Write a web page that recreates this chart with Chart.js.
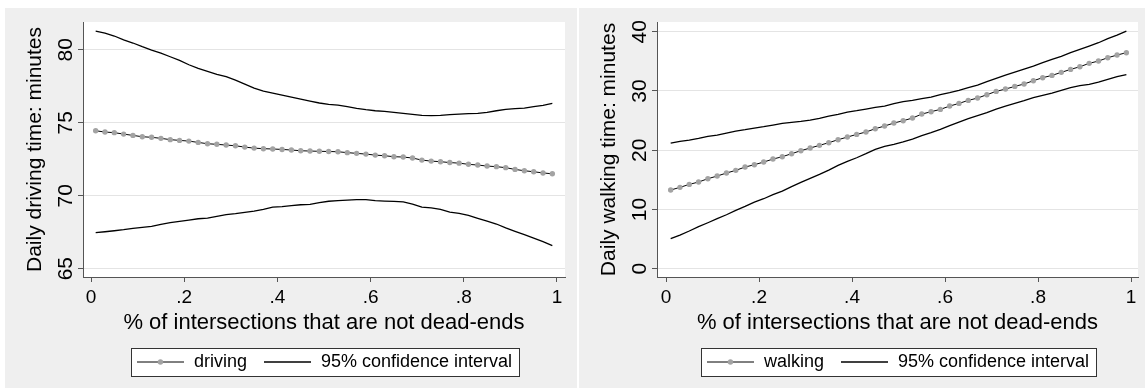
<!DOCTYPE html>
<html>
<head>
<meta charset="utf-8">
<script src="https://cdn.jsdelivr.net/npm/chart.js@4.4.0/dist/chart.umd.min.js"></script>
<style>
  html, body { margin: 0; padding: 0; background: #fff; }
  body { width: 1145px; height: 388px; position: relative; overflow: hidden; }
  .panel { position: absolute; top: 8px; height: 380px; background: #efefef; }
  #panelDriving { left: 5px; width: 572px; }
  #panelWalking { left: 579px; width: 566px; }
  canvas { display: block; }
</style>
</head>
<body>
<div class="panel" id="panelDriving"><canvas id="drivingChart" width="572" height="380"></canvas></div>
<div class="panel" id="panelWalking"><canvas id="walkingChart" width="566" height="380"></canvas></div>
<script>
// share of intersections that are not dead-ends (x of every point)
var shareX = [0.01, 0.03, 0.05, 0.07, 0.09, 0.11, 0.13, 0.15, 0.17, 0.19,
              0.21, 0.23, 0.25, 0.27, 0.29, 0.31, 0.33, 0.35, 0.37, 0.39,
              0.41, 0.43, 0.45, 0.47, 0.49, 0.51, 0.53, 0.55, 0.57, 0.59,
              0.61, 0.63, 0.65, 0.67, 0.69, 0.71, 0.73, 0.75, 0.77, 0.79,
              0.81, 0.83, 0.85, 0.87, 0.89, 0.91, 0.93, 0.95, 0.97, 0.99];

var drivingFit = [74.45, 74.36, 74.32, 74.22, 74.13, 74.04, 74.00, 73.93, 73.84, 73.79,
                  73.74, 73.65, 73.56, 73.52, 73.47, 73.42, 73.33, 73.26, 73.22, 73.20,
                  73.17, 73.13, 73.08, 73.06, 73.04, 73.03, 73.01, 72.95, 72.90, 72.85,
                  72.78, 72.74, 72.67, 72.65, 72.58, 72.44, 72.37, 72.33, 72.27, 72.23,
                  72.15, 72.10, 72.03, 71.99, 71.92, 71.80, 71.71, 71.64, 71.56, 71.50];
var drivingUpper = [81.28, 81.14, 80.94, 80.68, 80.46, 80.21, 79.98, 79.77, 79.52, 79.27,
                    78.97, 78.72, 78.52, 78.31, 78.15, 77.92, 77.65, 77.37, 77.17, 77.03,
                    76.89, 76.76, 76.62, 76.48, 76.35, 76.26, 76.21, 76.10, 75.98, 75.89,
                    75.82, 75.78, 75.71, 75.64, 75.57, 75.50, 75.48, 75.50, 75.55, 75.59,
                    75.62, 75.64, 75.71, 75.82, 75.91, 75.96, 76.00, 76.10, 76.19, 76.32];
var drivingLower = [67.47, 67.53, 67.60, 67.67, 67.76, 67.83, 67.90, 68.04, 68.15, 68.24,
                    68.33, 68.42, 68.47, 68.58, 68.70, 68.77, 68.86, 68.95, 69.06, 69.22,
                    69.25, 69.32, 69.38, 69.41, 69.52, 69.62, 69.66, 69.70, 69.73, 69.73,
                    69.66, 69.63, 69.61, 69.57, 69.43, 69.22, 69.16, 69.06, 68.88, 68.79,
                    68.65, 68.45, 68.26, 68.06, 67.79, 67.56, 67.33, 67.10, 66.85, 66.58];

var walkingFit = [13.28, 13.73, 14.23, 14.63, 15.19, 15.64, 16.15, 16.60, 17.16, 17.55,
                  18.00, 18.51, 18.90, 19.41, 19.92, 20.37, 20.82, 21.27, 21.77, 22.22,
                  22.67, 23.07, 23.63, 24.08, 24.59, 24.98, 25.43, 26.10, 26.50, 26.89,
                  27.45, 27.90, 28.41, 28.80, 29.37, 29.93, 30.32, 30.77, 31.17, 31.73,
                  32.24, 32.63, 33.14, 33.64, 34.09, 34.66, 35.05, 35.61, 36.06, 36.46];
var walkingUpper = [21.21, 21.49, 21.72, 22.00, 22.33, 22.56, 22.90, 23.23, 23.46, 23.74,
                    23.97, 24.25, 24.53, 24.70, 24.87, 25.09, 25.37, 25.77, 26.05, 26.44,
                    26.67, 26.95, 27.23, 27.45, 27.85, 28.19, 28.41, 28.69, 28.97, 29.37,
                    29.70, 30.10, 30.55, 31.00, 31.56, 32.12, 32.69, 33.19, 33.70, 34.21,
                    34.77, 35.33, 35.84, 36.46, 37.02, 37.58, 38.14, 38.82, 39.44, 40.11];
var walkingLower = [5.06, 5.68, 6.36, 7.09, 7.76, 8.44, 9.11, 9.85, 10.52, 11.25,
                    11.81, 12.49, 13.11, 13.84, 14.57, 15.25, 15.92, 16.65, 17.44, 18.12,
                    18.73, 19.41, 20.14, 20.65, 21.00, 21.40, 21.88, 22.45, 22.95, 23.52,
                    24.14, 24.75, 25.32, 25.82, 26.33, 26.95, 27.45, 27.90, 28.35, 28.86,
                    29.25, 29.65, 30.10, 30.55, 30.89, 31.11, 31.50, 31.95, 32.41, 32.74];

var xTickValues = [0, 0.2, 0.4, 0.6, 0.8, 1];
var xTickLabels = ['0', '.2', '.4', '.6', '.8', '1'];
var drivingTickValues = [65, 70, 75, 80];
var drivingTickLabels = ['65', '70', '75', '80'];
var walkingTickValues = [0, 10, 20, 30, 40];
var walkingTickLabels = ['0', '10', '20', '30', '40'];

var FONT = '"Liberation Sans", Arial, sans-serif';
Chart.defaults.font.family = FONT;
Chart.defaults.color = '#000';

// legend symbols: a line, optionally with the grey marker in the middle
function legendIcon(withMarker) {
    var c = document.createElement('canvas');
    c.width = 47; c.height = 10;
    var g = c.getContext('2d');
    g.strokeStyle = '#000';
    g.lineWidth = withMarker ? 1 : 1.3;
    g.beginPath(); g.moveTo(0, 5); g.lineTo(47, 5); g.stroke();
    if (withMarker) {
        g.fillStyle = '#a3a3a3';
        g.beginPath(); g.arc(23.5, 5, 2.7, 0, Math.PI * 2); g.fill();
    }
    return c;
}
var fitIcon = legendIcon(true);
var ciIcon = legendIcon(false);

function points(ys) {
    return shareX.map(function (x, i) { return {x: x, y: ys[i]}; });
}

// white plot region, boxed legend, rotated y tick labels (Stata look)
var stataLook = {
    id: 'stataLook',
    beforeDraw: function (chart) {
        var ctx = chart.ctx, a = chart.chartArea;
        ctx.save();
        ctx.fillStyle = '#fff';
        ctx.fillRect(a.left, a.top, a.right - a.left, a.bottom - a.top);
        var boxes = chart.legend.legendHitBoxes;
        if (boxes && boxes.length) {
            var l = Math.min.apply(null, boxes.map(function (b) { return b.left; })) - 5;
            var r = Math.max.apply(null, boxes.map(function (b) { return b.left + b.width; })) + 7;
            var cy = boxes[0].top + boxes[0].height / 2;
            l = Math.round(l); r = Math.round(r);
            var t = Math.round(cy - 14);
            ctx.fillRect(l, t, r - l, 28);
            ctx.strokeStyle = '#333';
            ctx.lineWidth = 1;
            ctx.strokeRect(l + 0.5, t + 0.5, r - l, 28);
        }
        ctx.restore();
    },
    afterDraw: function (chart) {
        var ys = chart.scales.y, ctx = chart.ctx;
        var labels = chart.options.plugins.stataLook.yLabels;
        ctx.save();
        ctx.fillStyle = '#000';
        ctx.font = '21px ' + FONT;
        ctx.textAlign = 'center';
        ctx.textBaseline = 'alphabetic';
        ys.ticks.forEach(function (t, i) {
            var p = ys.getPixelForValue(t.value);
            ctx.save();
            ctx.translate(ys.right - 11, p);
            ctx.rotate(-Math.PI / 2);
            ctx.fillText(labels[i], 0, 0);
            ctx.restore();
        });
        ctx.restore();
    }
};

function makeChart(id, name, fit, upper, lower, yMin, yMax, yTicks, yLabels, xMin, xMax, yTitle, padRight) {
    return new Chart(document.getElementById(id), {
        type: 'line',
        data: {
            datasets: [
                {label: name, data: points(fit), borderColor: '#000', borderWidth: 1,
                 pointRadius: 2.7, pointBackgroundColor: '#a3a3a3', pointBorderWidth: 0, tension: 0},
                {label: '95% confidence interval', data: points(upper), borderColor: '#000',
                 borderWidth: 1.3, pointRadius: 0, tension: 0},
                {label: 'lower', data: points(lower), borderColor: '#000',
                 borderWidth: 1.3, pointRadius: 0, tension: 0}
            ]
        },
        options: {
            responsive: false,
            animation: false,
            events: [],
            layout: {padding: {top: 14, right: padRight, left: 0, bottom: 7}},
            scales: {
                x: {
                    type: 'linear', min: xMin, max: xMax,
                    afterBuildTicks: function (s) { s.ticks = xTickValues.map(function (v) { return {value: v}; }); },
                    afterFit: function (s) { s.height = 60; },
                    ticks: {
                        autoSkip: false, maxRotation: 0, padding: 4,
                        font: {size: 19}, color: '#000',
                        callback: function (v, i) { return xTickLabels[i]; }
                    },
                    grid: {drawOnChartArea: false, tickLength: 5, tickColor: '#555'},
                    border: {color: '#555', width: 1},
                    title: {display: true, text: '% of intersections that are not dead-ends',
                            font: {size: 22}, color: '#000', padding: {top: 0, bottom: 1}}
                },
                y: {
                    min: yMin, max: yMax,
                    afterBuildTicks: function (s) { s.ticks = yTicks.map(function (v) { return {value: v}; }); },
                    afterFit: function (s) { s.width = 78; },
                    ticks: {display: false},
                    grid: {color: '#e4e4e4', tickLength: 5, tickColor: '#555'},
                    border: {color: '#555', width: 1},
                    title: {display: true, text: yTitle, font: {size: 21}, color: '#000',
                            padding: {top: 18, bottom: 0}}
                }
            },
            plugins: {
                stataLook: {yLabels: yLabels},
                tooltip: {enabled: false},
                legend: {
                    position: 'bottom',
                    fullSize: false,
                    labels: {
                        usePointStyle: true, pointStyleWidth: 49, padding: 16,
                        font: {size: 18}, color: '#000',
                        generateLabels: function () {
                            return [
                                {text: name, pointStyle: fitIcon, datasetIndex: 0, lineWidth: 0},
                                {text: '95% confidence interval', pointStyle: ciIcon, datasetIndex: 1, lineWidth: 0}
                            ];
                        }
                    }
                }
            }
        },
        plugins: [stataLook]
    });
}

makeChart('drivingChart', 'driving', drivingFit, drivingUpper, drivingLower,
          64.43, 81.9, drivingTickValues, drivingTickLabels, -0.0172, 1.0172,
          'Daily driving time: minutes', 12);
makeChart('walkingChart', 'walking', walkingFit, walkingUpper, walkingLower,
          -1.40, 41.64, walkingTickValues, walkingTickLabels, -0.0194, 1.015,
          'Daily walking time: minutes', 7);
</script>
</body>
</html>
